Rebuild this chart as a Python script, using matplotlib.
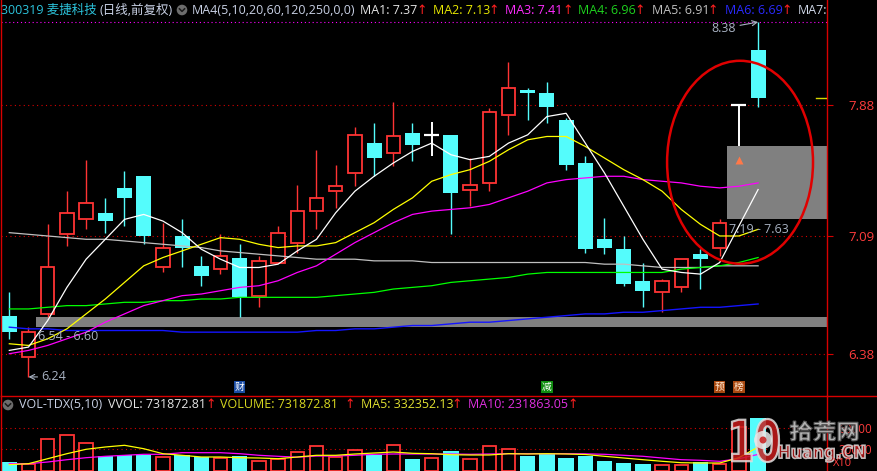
import matplotlib
matplotlib.use('Agg')
import matplotlib.pyplot as plt
from matplotlib.patches import Rectangle, Ellipse, Circle, PathPatch
from matplotlib.textpath import TextPath
from matplotlib.font_manager import FontProperties
from matplotlib.transforms import Affine2D

plt.rcParams['font.family'] = ['Open Sans', 'Noto Sans CJK SC', 'DejaVu Sans']
plt.rcParams['axes.unicode_minus'] = False

# ---------------- data ----------------
opens = [6.61, 6.36, 6.62, 7.10, 7.19, 7.23, 7.38, 7.45, 6.90, 7.09,
         6.91, 6.89, 6.96, 6.73, 6.93, 7.05, 7.24, 7.36, 7.47, 7.65,
         7.59, 7.71, 7.70, 7.70, 7.37, 7.41, 7.82, 7.97, 7.95, 7.79,
         7.53, 7.07, 7.01, 6.82, 6.75, 6.78, 6.98, 7.02, 7.88, 8.21]
highs = [6.75, 6.54, 7.16, 7.36, 7.55, 7.32, 7.48, 7.45, 7.17, 7.19,
         6.97, 7.10, 7.04, 6.97, 7.15, 7.40, 7.61, 7.52, 7.75, 7.77,
         7.90, 7.77, 7.78, 7.70, 7.56, 7.86, 8.14, 7.98, 8.02, 7.80,
         7.57, 7.20, 7.09, 6.93, 6.83, 6.95, 7.01, 7.19, 7.88, 8.38]
lows = [6.47, 6.24, 6.60, 7.03, 7.13, 7.11, 7.15, 7.04, 6.87, 6.90,
        6.79, 6.86, 6.60, 6.66, 6.93, 6.99, 7.13, 7.26, 7.39, 7.45,
        7.51, 7.54, 7.57, 7.10, 7.27, 7.36, 7.70, 7.79, 7.77, 7.49,
        6.99, 6.98, 6.79, 6.66, 6.63, 6.75, 6.77, 6.97, 7.63, 7.87]
closes = [6.51, 6.51, 6.90, 7.23, 7.29, 7.18, 7.32, 7.09, 7.02, 7.02,
          6.85, 6.97, 6.72, 6.94, 7.11, 7.24, 7.32, 7.39, 7.70, 7.56,
          7.69, 7.64, 7.70, 7.35, 7.40, 7.84, 7.98, 7.95, 7.87, 7.52,
          7.01, 7.02, 6.80, 6.76, 6.82, 6.95, 6.95, 7.17, 7.88, 7.92]

ma1 = [6.40, 6.42, 6.58, 6.78, 6.95, 7.07, 7.19, 7.22, 7.18, 7.11,
       7.01, 6.95, 6.90, 6.90, 6.92, 7.00, 7.07, 7.23, 7.36, 7.45,
       7.53, 7.60, 7.65, 7.58, 7.55, 7.57, 7.65, 7.70, 7.81, 7.83,
       7.65, 7.47, 7.27, 7.07, 6.89, 6.87, 6.86, 6.93, 7.15, 7.37]
ma2 = [6.44, 6.43, 6.47, 6.53, 6.62, 6.71, 6.81, 6.91, 6.96, 7.00,
       7.04, 7.08, 7.07, 7.04, 7.02, 7.03, 7.03, 7.05, 7.11, 7.17,
       7.25, 7.32, 7.42, 7.46, 7.49, 7.54, 7.61, 7.67, 7.69, 7.69,
       7.63, 7.56, 7.49, 7.43, 7.36, 7.25, 7.16, 7.09, 7.09, 7.13]
ma3 = [6.38, 6.40, 6.43, 6.47, 6.51, 6.57, 6.62, 6.67, 6.70, 6.73,
       6.74, 6.76, 6.78, 6.79, 6.82, 6.87, 6.91, 6.98, 7.05, 7.11,
       7.17, 7.22, 7.24, 7.25, 7.26, 7.28, 7.32, 7.36, 7.41, 7.43,
       7.44, 7.45, 7.45, 7.43, 7.42, 7.41, 7.39, 7.38, 7.39, 7.41]
ma4 = [6.65, 6.65, 6.66, 6.67, 6.67, 6.68, 6.69, 6.69, 6.70, 6.70,
       6.71, 6.71, 6.72, 6.72, 6.72, 6.72, 6.72, 6.73, 6.74, 6.75,
       6.77, 6.78, 6.79, 6.81, 6.82, 6.83, 6.84, 6.86, 6.87, 6.87,
       6.87, 6.87, 6.87, 6.87, 6.87, 6.89, 6.90, 6.91, 6.93, 6.96]
ma5 = [7.11, 7.10, 7.09, 7.08, 7.07, 7.07, 7.06, 7.05, 7.04, 7.03,
       7.02, 7.00, 6.99, 6.98, 6.97, 6.96, 6.95, 6.95, 6.95, 6.94,
       6.94, 6.94, 6.93, 6.93, 6.93, 6.93, 6.93, 6.93, 6.93, 6.93,
       6.93, 6.92, 6.92, 6.91, 6.90, 6.90, 6.90, 6.91, 6.91, 6.91]
ma6 = [6.54, 6.53, 6.53, 6.52, 6.52, 6.52, 6.52, 6.52, 6.52, 6.51,
       6.51, 6.51, 6.51, 6.51, 6.51, 6.51, 6.52, 6.52, 6.53, 6.53,
       6.54, 6.55, 6.55, 6.56, 6.57, 6.57, 6.58, 6.59, 6.60, 6.61,
       6.62, 6.62, 6.63, 6.63, 6.64, 6.65, 6.66, 6.66, 6.67, 6.68]

volumes = [127700, 104400, 447600, 502600, 392700, 206000, 219700, 219700, 192200, 219700,
           192200, 182600, 210100, 145500, 173000, 265000, 343300, 196400, 296600, 219700,
           357000, 173000, 186700, 278700, 173000, 343300, 310300, 210100, 241700, 186700,
           215000, 140000, 118000, 100000, 88000, 90600, 127700, 104400, 608300, 731873]
vol_ma5 = [90600, 104400, 173000, 241700, 302100, 333700, 357000, 310300, 241700, 219700,
           196400, 196400, 186700, 182600, 173000, 196400, 219700, 219700, 237500, 251300,
           265000, 247200, 241700, 227900, 223800, 223800, 241700, 237500, 241700, 237500,
           230700, 206000, 182600, 159300, 137300, 118100, 114000, 114000, 186700, 332352]
vol_ma10 = [104400, 104400, 127700, 159300, 186700, 206000, 219700, 233400, 233400, 255400,
            255400, 255400, 241700, 219700, 206000, 193600, 210100, 210100, 219700, 233400,
            237500, 237500, 237500, 237500, 233400, 237500, 241700, 241700, 241700, 241700,
            240000, 233400, 219700, 206000, 182600, 159300, 151000, 137300, 173000, 231863]

price_ticks = [6.38, 7.09, 7.88]
vol_ticks = [300000, 600000]
vol_tick_labels = ['30000', '60000']
gap_pairs = [(1, 2), (37, 38)]          # (candle before gap, candle after gap)
signal_idx = [12, 28, 37, 38]
signal_text = ['财', '减', '预', '榜']

# ---------------- layout ----------------
W, H = 877, 471
fig = plt.figure(figsize=(W / 100, H / 100), dpi=100, facecolor='black')


def rect(x0, y0, x1, y1):
    return [x0 / W, 1 - y1 / H, (x1 - x0) / W, (y1 - y0) / H]


ax = fig.add_axes(rect(1, 0, 827, 396), facecolor='black')
axv = fig.add_axes(rect(1, 396, 827, 471), facecolor='black')
ov = fig.add_axes([0, 0, 1, 1])
ov.set_xlim(0, W)
ov.set_ylim(H, 0)
ov.axis('off')
ov.patch.set_alpha(0)

X0, DX = 9.3, 19.2
XLIM = ((1 - X0) / DX, (827 - X0) / DX)
RED = '#ff3434'
CYAN = '#54fcfc'
AXRED = '#d80000'
n = len(closes)
idx = list(range(n))

for a in (ax, axv):
    a.set_xlim(*XLIM)
    a.set_xticks([])
    for s in a.spines.values():
        s.set_color(AXRED)
        s.set_linewidth(1.0)
    a.spines['top'].set_visible(False)
    a.spines['bottom'].set_visible(False)
    a.yaxis.tick_right()
axv.spines['top'].set_visible(True)

ax.set_ylim(6.125, 8.513)
axv.set_ylim(4100, 1034000)

# grid lines / ticks
ax.set_yticks(price_ticks)
ax.set_yticklabels([f'{t:.2f}' for t in price_ticks])
ax.tick_params(axis='y', colors=AXRED, length=4.5, width=0.8, pad=11,
               labelsize=9.5, labelcolor='#ff3c3c')
for t in price_ticks:
    ax.axhline(t, color=AXRED, lw=0.8, ls=(0, (1, 3)), zorder=0.5)
ax.axhline(max(highs), color='#ff00ff', lw=0.8, ls=(0, (1, 2.5)), zorder=0.5)

axv.set_yticks(vol_ticks)
axv.set_yticklabels(vol_tick_labels)
axv.tick_params(axis='y', colors=AXRED, length=4.5, width=0.8, pad=4,
                labelsize=8.5, labelcolor='#ff3c3c')
for t in vol_ticks:
    axv.axhline(t, color=AXRED, lw=0.8, ls=(0, (1, 3)), zorder=0.5)

# gap boxes
for a_i, b_i in gap_pairs:
    lo, hi = highs[a_i], lows[b_i]
    ax.add_patch(Rectangle((a_i + 0.38, lo), XLIM[1] - a_i, hi - lo,
                           facecolor='#808080', edgecolor='none', zorder=1))
    ax.annotate(f'{lo:.2f} - {hi:.2f}', xy=(a_i + 0.38, lo), xytext=(1.5, -7),
                textcoords='offset points', ha='left', va='center',
                color='#a8b2c2', fontsize=9, zorder=6)

# candles
BW_F, BW_H = 0.78, 0.70
for i in idx:
    o, h, l, c = opens[i], highs[i], lows[i], closes[i]
    if c > o:
        ax.vlines(i, c, h, color=RED, lw=1.0, zorder=2)
        ax.vlines(i, l, o, color=RED, lw=1.0, zorder=2)
        ax.add_patch(Rectangle((i - BW_H / 2, o), BW_H, c - o, facecolor='black',
                               edgecolor=RED, lw=1.3, zorder=2))
    elif c < o:
        ax.vlines(i, l, h, color=CYAN, lw=1.0, zorder=2)
        ax.add_patch(Rectangle((i - BW_F / 2, c), BW_F, o - c, facecolor=CYAN,
                               edgecolor='none', zorder=2))
    else:
        ax.vlines(i, l, h, color='white', lw=1.4, zorder=2)
        ax.hlines(o, i - BW_F / 2, i + BW_F / 2, color='white', lw=1.6, zorder=2)

# moving averages
for ma, col, lw in [(ma5, '#c0c0c0', 0.9), (ma6, '#1414ff', 1.0), (ma4, '#00ff00', 0.9),
                    (ma3, '#ff00ff', 0.9), (ma2, '#ffff00', 0.9), (ma1, '#ffffff', 0.9)]:
    ax.plot(idx, ma, color=col, lw=lw, zorder=3)

# last close marker on the right edge
ax.axhline(closes[-1], xmin=0.987, xmax=1.0, color='#d8d800', lw=1.0, zorder=3)

# annotations
ax.annotate(f'{max(highs):.2f}', xy=(n - 1, max(highs)), xytext=(-16, -4.5),
            textcoords='offset points', ha='right', va='center', color='#a8b2c2',
            fontsize=9, arrowprops=dict(arrowstyle='->', color='#a8b2c2', lw=0.8,
                                        shrinkA=1, shrinkB=0), zorder=6)
lo_i = lows.index(min(lows))
ax.annotate(f'{min(lows):.2f}', xy=(lo_i, min(lows)), xytext=(9.5, 0),
            textcoords='offset points', ha='left', va='center', color='#a8b2c2',
            fontsize=9, arrowprops=dict(arrowstyle='->', color='#a8b2c2', lw=0.8,
                                        shrinkA=1, shrinkB=0), zorder=6)
ax.plot([38], [7.551], marker='^', ms=5.5, color='#ff7848', mec='none', zorder=6)
ax.add_patch(Ellipse((38.06, 7.5345), 7.6, 1.224, fill=False, edgecolor='#e00000',
                     lw=1.8, zorder=7))

sig_colors = {'财': ('#1a4ca4', 'white'), '减': ('#108c10', 'white'),
              '预': ('#a84810', '#ffe8d0'), '榜': ('#a84810', '#ffe8d0')}
for i, s in zip(signal_idx, signal_text):
    bg, fg = sig_colors[s]
    ax.text(i, 0.0227, s, transform=ax.get_xaxis_transform(), ha='center', va='center',
            fontsize=7, color=fg, family=['Noto Sans CJK SC'],
            bbox=dict(boxstyle='square,pad=0.08', facecolor=bg, edgecolor='none'), zorder=8)

# volume panel
BWV_F, BWV_H = 0.80, 0.70
for i in idx:
    v = volumes[i]
    if closes[i] >= opens[i]:
        axv.add_patch(Rectangle((i - BWV_H / 2, 0), BWV_H, v, facecolor='black',
                                edgecolor=RED, lw=1.3, zorder=2))
    else:
        axv.add_patch(Rectangle((i - BWV_F / 2, 0), BWV_F, v, facecolor=CYAN,
                                edgecolor='none', zorder=2))
axv.plot(idx, vol_ma10, color='#ff00ff', lw=0.9, zorder=3)
axv.plot(idx, vol_ma5, color='#ffff00', lw=0.9, zorder=3)

# ---------------- overlay: headers, icons, watermark ----------------
ov.plot([827, 877], [396, 396], color=AXRED, lw=1.0)


def hdr(x, y, s, col, fs=9):
    ov.text(x, y, s, color=col, fontsize=fs, ha='left', va='center')


def arrow_up(x, y):
    ov.text(x, y, '↑', color='#ff2020', fontsize=9, ha='center', va='center',
            family=['DejaVu Sans'])


def icon(x, y):
    ov.add_patch(Circle((x, y), 5.3, facecolor='#6c6c6c', edgecolor='none'))
    ov.plot([x - 2.6, x, x + 2.6], [y - 1.2, y + 1.4, y - 1.2], color='#1a1a1a', lw=1.1)


Y1 = 10
hdr(1, Y1, '300319 麦捷科技', '#2cc4dc')
hdr(100, Y1, '(日线,前复权)', '#c8d0e4')
icon(182, Y1)
hdr(192, Y1, 'MA4(5,10,20,60,120,250,0,0)', '#c8d0e4')
for x, s, col, ax_x in [(360, 'MA1: 7.37', '#e4e4e4', 422), (433, 'MA2: 7.13', '#e8e800', 494),
                        (505, 'MA3: 7.41', '#ff2cff', 568), (578, 'MA4: 6.96', '#1ed21e', 640),
                        (652, 'MA5: 6.91', '#c0c0c0', 713), (725, 'MA6: 6.69', '#2a2aff', 787)]:
    hdr(x, Y1, s, col)
    arrow_up(ax_x, Y1)
hdr(798, Y1, 'MA7:', '#d0d8e8')

Y2 = 405
icon(8, Y2)
hdr(19, Y2, 'VOL-TDX(5,10)', '#c8d0e4')
for x, s, col, ax_x in [(108, 'VVOL: 731872.81', '#e4e4e4', 211),
                        (220, 'VOLUME: 731872.81', '#d8d820', 350),
                        (361, 'MA5: 332352.13', '#e0e030', 457),
                        (468, 'MA10: 231863.05', '#e030e0', 573)]:
    hdr(x, Y2, s, col)
    arrow_up(ax_x, Y2)
ov.text(833, 464, 'X10', color='#ff3c3c', fontsize=8, ha='left', va='center')


def path_text(s, x, y, w, h, face, edge, lw, alpha, prop):
    tp = TextPath((0, 0), s, size=1, prop=prop)
    bb = tp.get_extents()
    tr = Affine2D().translate(-bb.x0, -bb.y0).scale(w / bb.width, -h / bb.height).translate(x, y + h)
    ov.add_patch(PathPatch(tr.transform_path(tp), facecolor=face, edgecolor=edge,
                           lw=lw, alpha=alpha))


bold = FontProperties(family='DejaVu Sans', weight='bold')
cjk = FontProperties(family='Noto Sans CJK SC', weight='bold')
path_text('10', 732, 419, 47, 43, '#c81c1c', '#e0e0e0', 1.6, 0.85, bold)
ov.add_patch(Circle((763, 440), 9, facecolor='#e8e8e8', edgecolor='none', alpha=0.85))
ov.add_patch(Circle((763, 440), 3.5, facecolor='#c81c1c', edgecolor='none', alpha=0.85))
path_text('拾荒网', 790, 421, 68, 20, '#c8c8c8', '#585858', 0.8, 0.9, cjk)
path_text('Huang.CN', 779, 445, 86, 17, '#b41818', '#d8d8d8', 1.2, 0.85, bold)

fig.savefig('out.png', dpi=100, facecolor='black')
